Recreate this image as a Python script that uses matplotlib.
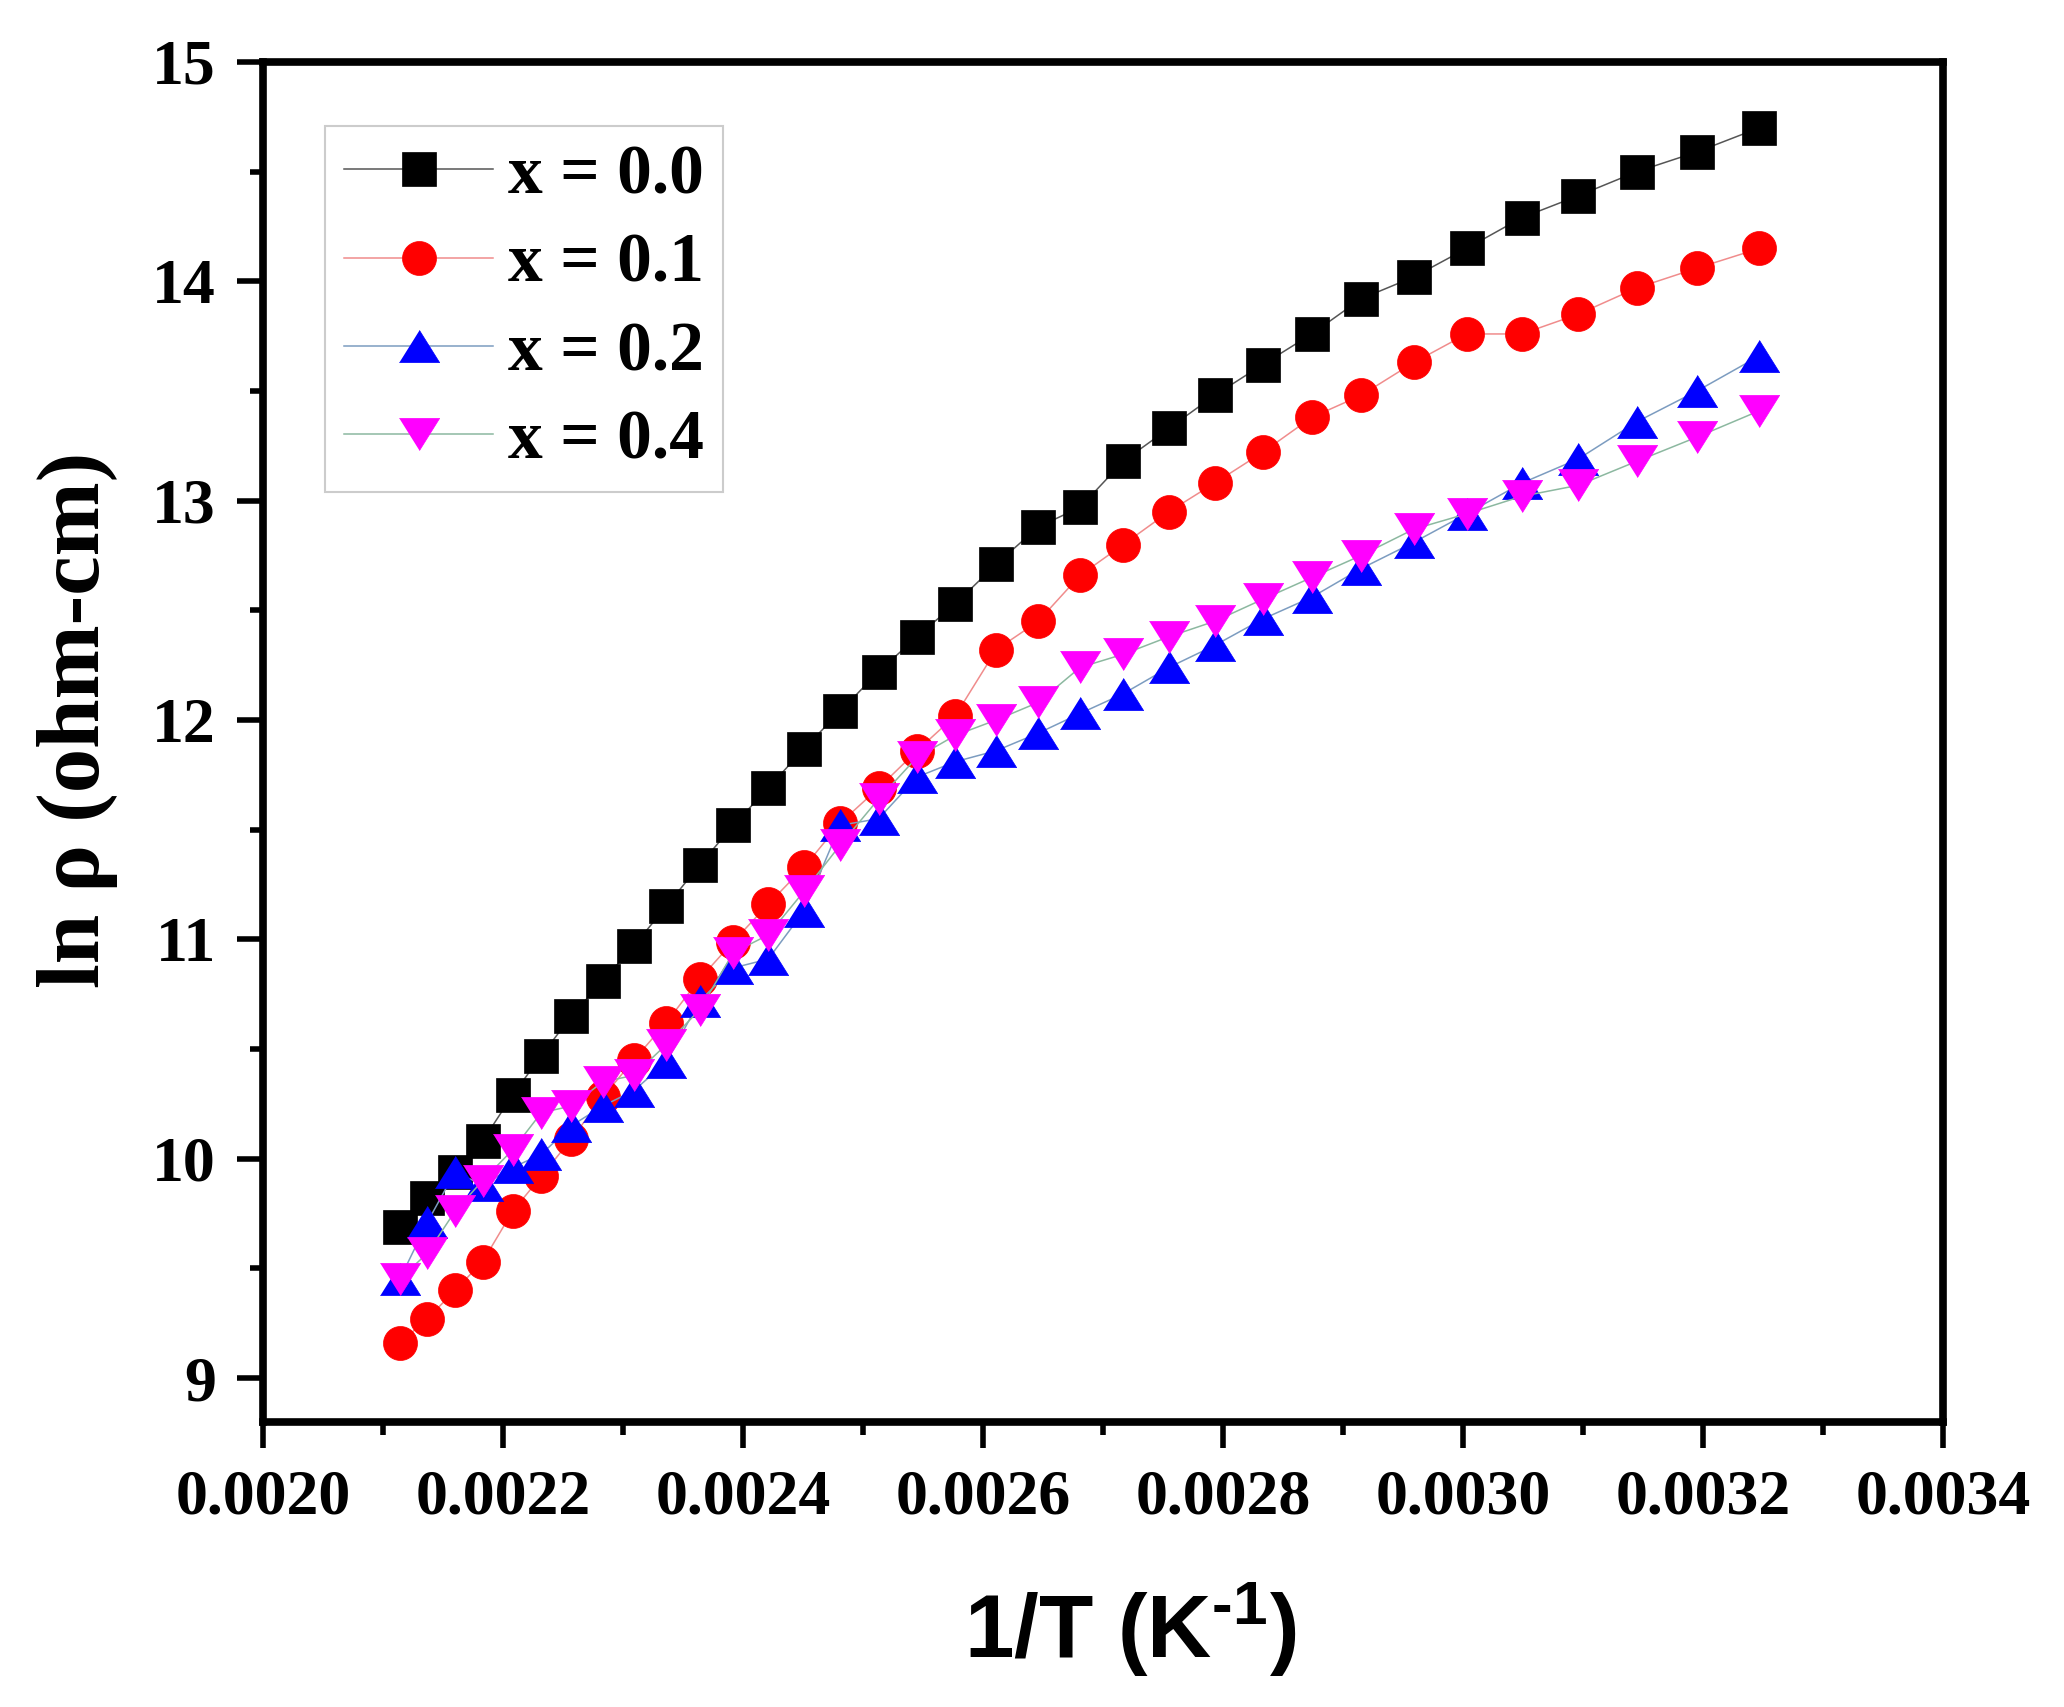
import numpy as np
import matplotlib.pyplot as plt
from matplotlib.ticker import MultipleLocator, FormatStrFormatter

plt.rcParams["font.family"] = "Liberation Serif"
plt.rcParams["font.weight"] = "bold"
plt.rcParams["mathtext.fontset"] = "custom"
plt.rcParams["mathtext.rm"] = "Liberation Sans:bold"
plt.rcParams["mathtext.it"] = "Liberation Sans:bold"
plt.rcParams["mathtext.bf"] = "Liberation Sans:bold"

# 1/T (K^-1), shared by all four samples
inv_T = [0.002114, 0.002137, 0.002160, 0.002183, 0.002208, 0.002232, 0.002257,
         0.002283, 0.002309, 0.002336, 0.002364, 0.002392, 0.002421, 0.002451,
         0.002481, 0.002513, 0.002545, 0.002577, 0.002611, 0.002646, 0.002681,
         0.002717, 0.002755, 0.002793, 0.002833, 0.002874, 0.002915, 0.002959,
         0.003003, 0.003049, 0.003096, 0.003145, 0.003195, 0.003247]

ln_rho_00 = [9.69, 9.82, 9.94, 10.08, 10.29, 10.47, 10.65, 10.81, 10.97, 11.15,
             11.34, 11.52, 11.69, 11.87, 12.04, 12.22, 12.38, 12.53, 12.71, 12.88,
             12.97, 13.18, 13.33, 13.48, 13.62, 13.76, 13.92, 14.02, 14.15, 14.29,
             14.39, 14.50, 14.59, 14.70]
ln_rho_01 = [9.16, 9.27, 9.40, 9.53, 9.76, 9.92, 10.09, 10.28, 10.45, 10.62,
             10.82, 10.99, 11.16, 11.33, 11.53, 11.69, 11.86, 12.02, 12.32, 12.45,
             12.66, 12.80, 12.95, 13.08, 13.22, 13.38, 13.48, 13.63, 13.76, 13.76,
             13.85, 13.97, 14.06, 14.15]
ln_rho_02 = [9.45, 9.71, 9.94, 9.88, 9.96, 10.02, 10.15, 10.24, 10.31, 10.44,
             10.72, 10.87, 10.91, 11.13, 11.52, 11.55, 11.74, 11.81, 11.86, 11.94,
             12.03, 12.12, 12.24, 12.34, 12.46, 12.56, 12.69, 12.81, 12.94, 13.08,
             13.19, 13.36, 13.50, 13.66]
ln_rho_04 = [9.45, 9.57, 9.76, 9.90, 10.04, 10.21, 10.24, 10.35, 10.38, 10.52,
             10.68, 10.94, 11.02, 11.22, 11.43, 11.64, 11.83, 11.93, 12.00, 12.08,
             12.24, 12.30, 12.38, 12.45, 12.55, 12.65, 12.75, 12.87, 12.94, 13.02,
             13.07, 13.18, 13.29, 13.41]

labels = ["x = 0.0", "x = 0.1", "x = 0.2", "x = 0.4"]

tri_up = [(-1, -0.8), (1, -0.8), (0, 0.8)]
tri_down = [(-1, 0.8), (1, 0.8), (0, -0.8)]

styles = [
    (ln_rho_00, "s", 24.5, "#000000", "#555555"),
    (ln_rho_01, "o", 24.5, "#ff0000", "#f08c8c"),
    (ln_rho_02, tri_up, 29, "#0000ff", "#7c9cc0"),
    (ln_rho_04, tri_down, 29, "#ff00ff", "#8cb8a0"),
]

fig = plt.figure(figsize=(20.64, 17.07), dpi=100)
ax = fig.add_axes([0.1274, 0.1670, 0.8140, 0.7967])

for (vals, mk, ms, fc, lc), lab in zip(styles, labels):
    ax.plot(inv_T, vals, color=lc, lw=1.1, marker=mk, ms=ms,
            mfc=fc, mec=fc, mew=0.5, label=lab)

ax.set_xlim(0.0020, 0.0034)
ax.set_ylim(8.8, 15)

ax.xaxis.set_major_locator(MultipleLocator(0.0002))
ax.xaxis.set_minor_locator(MultipleLocator(0.0001))
ax.xaxis.set_major_formatter(FormatStrFormatter("%.4f"))
ax.yaxis.set_major_locator(MultipleLocator(1))
ax.yaxis.set_minor_locator(MultipleLocator(0.5))
ax.yaxis.set_major_formatter(FormatStrFormatter("%d"))

for sp in ax.spines.values():
    sp.set_linewidth(5.5)

ax.tick_params(which="major", direction="out", length=19, width=4,
               labelsize=46, top=False, right=False)
ax.tick_params(axis="x", which="major", pad=15)
ax.tick_params(axis="y", which="major", pad=15)
ax.tick_params(which="minor", direction="out", length=9.5, width=4,
               top=False, right=False)

ax.set_xlabel(r"1/T (K$^{\text{-}1}$)", fontsize=64, fontweight="bold",
              fontfamily="Liberation Sans")
ax.xaxis.set_label_coords(0.516, -0.116)
ax.set_ylabel("ln ρ (ohm-cm)", fontsize=64, fontweight="bold",
              fontfamily="Liberation Serif")
ax.yaxis.set_label_coords(-0.086, 0.516)

leg = ax.legend(loc="upper left", bbox_to_anchor=(0.037, 0.953),
                borderaxespad=0, fontsize=50, frameon=True, fancybox=False,
                framealpha=1, edgecolor="#cccccc", handlelength=2.15,
                handletextpad=0.22, labelspacing=0.35, borderpad=0.27)
leg.get_frame().set_linewidth(1.5)

fig.savefig("out.png", dpi=100)
